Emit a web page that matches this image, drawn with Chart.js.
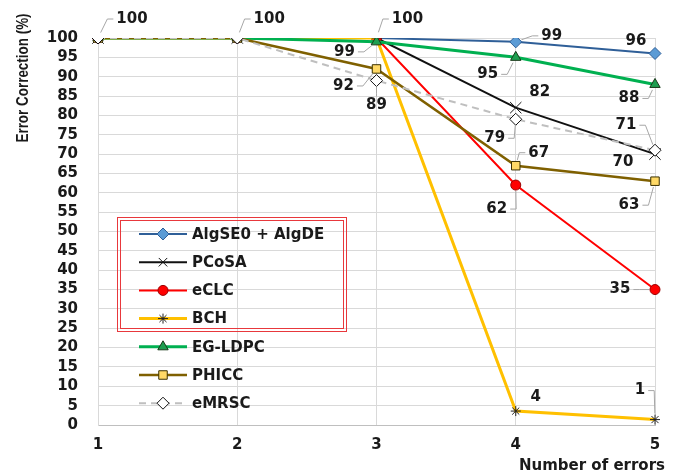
<!DOCTYPE html>
<html>
<head>
<meta charset="utf-8">
<title>Error Correction</title>
<script src="https://cdn.jsdelivr.net/npm/chart.js@4.4.0/dist/chart.umd.min.js"></script>
<style>
    html, body { margin: 0; padding: 0; background: #fff; }
    #wrap { width: 678px; height: 476px; position: relative; }
</style>
</head>
<body>
<div id="wrap"><canvas id="chart" width="678" height="476"></canvas></div>
<script>
// Data
const errors = ['1', '2', '3', '4', '5'];
const yTicks = [0, 5, 10, 15, 20, 25, 30, 35, 40, 45, 50, 55, 60, 65, 70, 75, 80, 85, 90, 95, 100];

const seriesNames = ['AlgSE0 + AlgDE', 'PCoSA', 'eCLC', 'BCH', 'EG-LDPC', 'PHICC', 'eMRSC'];
const algSE0 = [100, 100, 100, 99, 96];
const pcosa = [100, 100, 100, 82, 70];
const eclc = [100, 100, 100, 62, 35];
const bch = [100, 100, 100, 3.6, 1.4];
const egLdpc = [100, 100, 99, 95, 88];
const phicc = [100, 100, 92, 67, 63];
const emrsc = [100, 100, 89, 79, 71];

// Where each value label sits relative to its point: [dx, dy, leader line?]
const labelPos = [
    [[34, -19, 1], [32, -19, 1], [31, -19, 1], [36, -6, 1], [-19, -12, 0]],
    [null, null, null, [24, -16, 0], [-32, 8, 0]],
    [null, null, null, [-19, 24, 1], [-35, 0, 1]],
    [null, null, null, [20, -14, 0], [-15, -29, 1]],
    [null, null, [-32, 10, 1], [-28, 17, 1], [-26, 14, 1]],
    [null, null, [-33, 17, 1], [23, -13, 1], [-26, 24, 1]],
    [null, null, [0, 25, 1], [-21, 19, 1], [-29, -25, 1]]
];

const fontFamily = '"DejaVu Sans", Verdana, sans-serif';
const boldFont = 'bold 15px ' + fontFamily;

function makeSet(i, data, color, extra) {
    return Object.assign({
        label: seriesNames[i],
        data: data,
        borderColor: color,
        backgroundColor: color,
        borderWidth: 2.5,
        pointRadius: 5,
        pointHoverRadius: 5,
        pointBorderWidth: 1,
        pointBorderColor: '#222',
        tension: 0,
        order: -i
    }, extra);
}

const datasets = [
    makeSet(0, algSE0, '#2F5F98', { borderWidth: 2, pointStyle: 'rectRot', pointRadius: 6, pointBackgroundColor: '#5B9BD5', pointBorderColor: '#2F5F98' }),
    makeSet(1, pcosa, '#111111', { borderWidth: 2, pointStyle: 'crossRot', pointRadius: 8, pointBorderColor: '#111' }),
    makeSet(2, eclc, '#FF0000', { borderWidth: 2, pointStyle: 'circle', pointRadius: 5, pointBackgroundColor: '#FF0000', pointBorderColor: '#900' }),
    makeSet(3, bch, '#FFC000', { borderWidth: 3, pointStyle: 'star', pointRadius: 5, pointBorderColor: '#222' }),
    makeSet(4, egLdpc, '#00B050', { borderWidth: 3, pointStyle: 'triangle', pointRadius: 6, pointBackgroundColor: '#1E9E50', pointBorderColor: '#1A3A1A' }),
    makeSet(5, phicc, '#7F6000', { borderWidth: 2.5, pointStyle: 'rect', pointRadius: 6, pointBackgroundColor: '#FFD966', pointBorderColor: '#3A3000' }),
    makeSet(6, emrsc, '#BFBFBF', { borderWidth: 2, borderDash: [7, 5], pointStyle: 'rectRot', pointRadius: 6, pointBackgroundColor: '#FFFFFF', pointBorderColor: '#111' })
];

// Value labels with grey leader lines
const valueLabels = {
    id: 'valueLabels',
    afterDatasetsDraw(chart) {
        const ctx = chart.ctx;
        ctx.save();
        ctx.font = boldFont;
        ctx.textAlign = 'center';
        ctx.textBaseline = 'middle';
        chart.data.datasets.forEach((ds, i) => {
            const meta = chart.getDatasetMeta(i);
            meta.data.forEach((pt, j) => {
                const pos = labelPos[i][j];
                if (!pos) return;
                const tx = pt.x + pos[0];
                const ty = pt.y + pos[1];
                const text = String(Math.round(ds.data[j]));
                const w = ctx.measureText(text).width;
                if (pos[2]) {
                    let sx, sy, ex, ey;
                    if (Math.abs(pos[0]) > 8) {
                        const side = pos[0] > 0 ? -1 : 1;
                        sx = tx + side * (w / 2 + 3);
                        sy = ty;
                        ex = sx + side * 6;
                        ey = ty;
                    } else {
                        const side = pos[1] > 0 ? -1 : 1;
                        sx = tx; sy = ty + side * 9;
                        ex = sx; ey = sy + side * 3;
                    }
                    // stop the leader at the edge of the marker
                    const dx = pt.x - ex, dy = pt.y - ey;
                    const d = Math.hypot(dx, dy) || 1;
                    const r = 6;
                    ctx.strokeStyle = '#A6A6A6';
                    ctx.lineWidth = 1;
                    ctx.beginPath();
                    ctx.moveTo(sx, sy);
                    ctx.lineTo(ex, ey);
                    ctx.lineTo(pt.x - dx / d * r, pt.y - dy / d * r);
                    ctx.stroke();
                }
                ctx.fillStyle = '#1A1A1A';
                ctx.fillText(text, tx, ty);
            });
        });
        ctx.restore();
    }
};

// Legend inside the plot, with the red double frame round the first four rows
const innerLegend = {
    id: 'innerLegend',
    afterDraw(chart) {
        const ctx = chart.ctx;
        ctx.save();
        ctx.strokeStyle = '#E8383C';
        ctx.lineWidth = 1;
        ctx.strokeRect(117.5, 217.5, 229, 114);
        ctx.strokeRect(120.5, 220.5, 223, 108);

        chart.data.datasets.forEach((ds, i) => {
            const y = 234 + i * 28.2;
            ctx.save();
            ctx.strokeStyle = ds.borderColor;
            ctx.lineWidth = ds.borderWidth;
            ctx.setLineDash(ds.borderDash || []);
            ctx.beginPath();
            ctx.moveTo(139, y);
            ctx.lineTo(187, y);
            ctx.stroke();
            ctx.restore();

            ctx.save();
            ctx.fillStyle = ds.pointBackgroundColor || ds.backgroundColor;
            ctx.strokeStyle = ds.pointBorderColor;
            ctx.lineWidth = ds.pointBorderWidth;
            Chart.helpers.drawPoint(ctx, {
                pointStyle: ds.pointStyle,
                radius: Math.min(ds.pointRadius, 6),
                borderWidth: ds.pointBorderWidth,
                rotation: 0
            }, 163, y);
            ctx.restore();

            ctx.fillStyle = '#1A1A1A';
            ctx.font = boldFont;
            ctx.textAlign = 'left';
            ctx.textBaseline = 'middle';
            ctx.fillText(ds.label, 192, y + 1);
        });

        // axis titles
        ctx.fillStyle = '#1A1A1A';
        ctx.font = boldFont;
        ctx.textAlign = 'right';
        ctx.textBaseline = 'middle';
        ctx.fillText('Number of errors', 665, 466);

        ctx.save();
        ctx.translate(23, 78);
        ctx.rotate(-Math.PI / 2);
        ctx.scale(0.79, 1);
        ctx.font = 'bold 17px "Liberation Sans", Arial, sans-serif';
        ctx.textAlign = 'center';
        ctx.fillText('Error Correction (%)', 0, 0);
        ctx.restore();
        ctx.restore();
    }
};

new Chart(document.getElementById('chart').getContext('2d'), {
    type: 'line',
    data: { labels: errors, datasets: datasets },
    options: {
        responsive: false,
        animation: false,
        devicePixelRatio: 1,
        layout: { padding: { left: 0, top: 38, right: 23, bottom: 0 } },
        plugins: {
            legend: { display: false },
            tooltip: { enabled: false }
        },
        scales: {
            x: {
                offset: false,
                grid: { color: '#D9D9D9', lineWidth: 1, drawTicks: false },
                border: { color: '#BFBFBF' },
                ticks: { padding: 11, color: '#1A1A1A', font: { family: fontFamily, size: 15, weight: 'bold' } },
                afterFit(scale) { scale.height = 51; }
            },
            y: {
                min: 0,
                max: 100,
                afterBuildTicks(scale) { scale.ticks = yTicks.map(v => ({ value: v })); },
                grid: { color: '#D9D9D9', lineWidth: 1, drawTicks: false },
                border: { color: '#D9D9D9' },
                ticks: { autoSkip: false, padding: 20, color: '#1A1A1A', font: { family: fontFamily, size: 15, weight: 'bold' } },
                afterFit(scale) { scale.width = 98; }
            }
        }
    },
    plugins: [valueLabels, innerLegend]
});
</script>
</body>
</html>
